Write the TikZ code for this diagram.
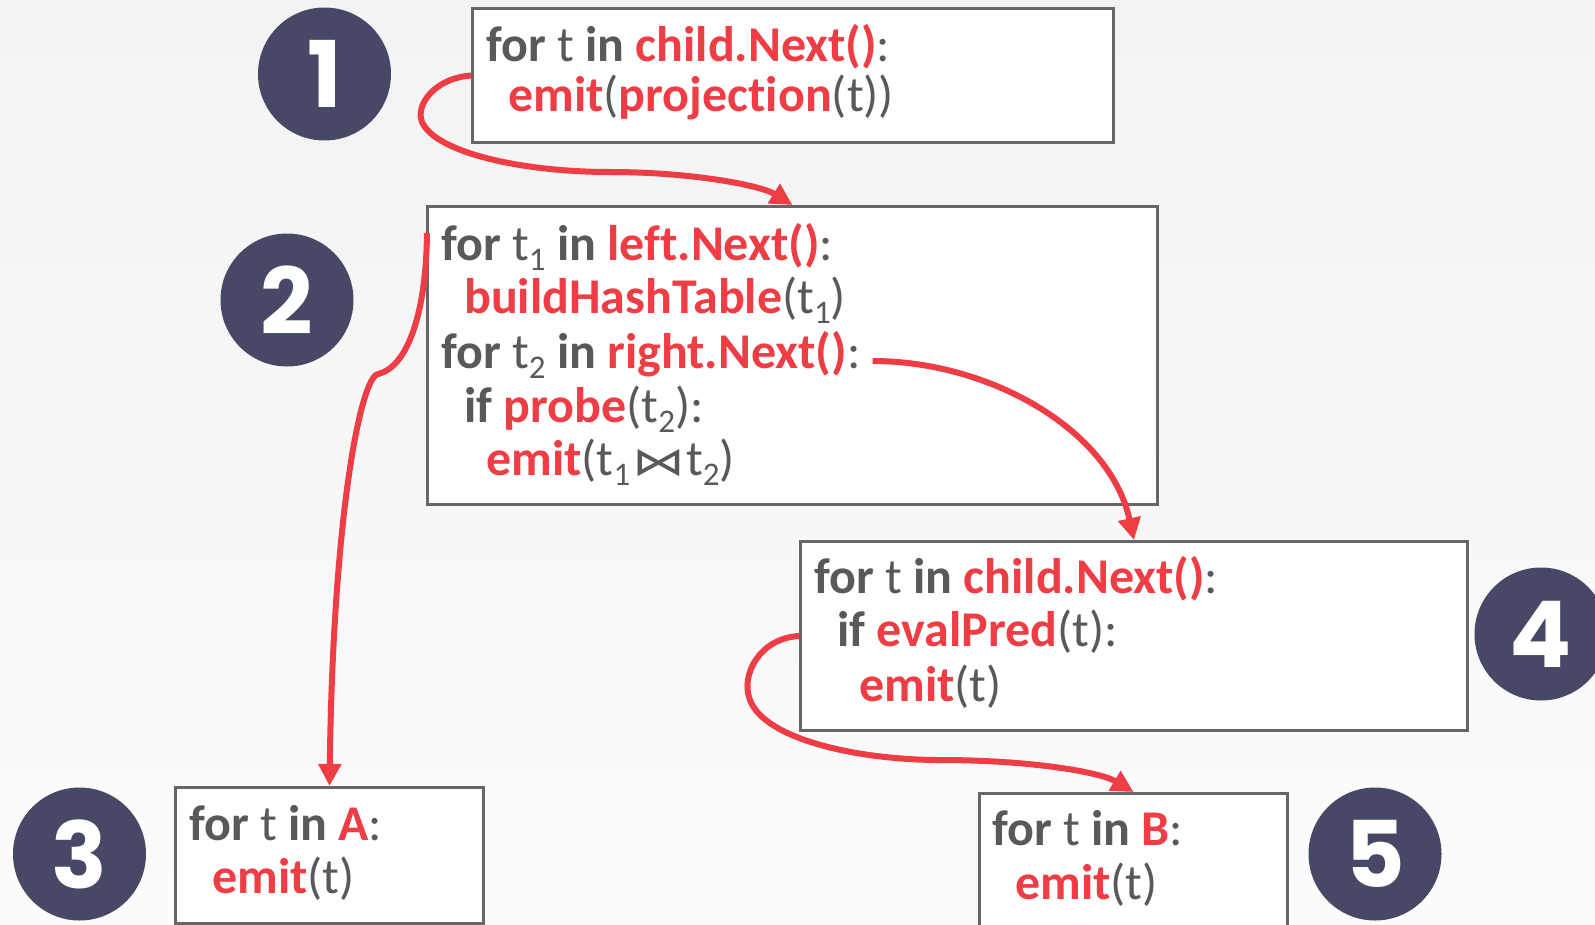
\documentclass[tikz,border=0pt]{standalone}
\usepackage{fontspec}
\setmainfont{Carlito}[Ligatures=NoCommon]
\newfontfamily\numfont{Poppins}
\newfontfamily\symfont{DejaVu Sans}
\usetikzlibrary{arrows.meta,calc}

\definecolor{slred}{HTML}{EE3D45}
\definecolor{slgray}{HTML}{595959}
\definecolor{slframe}{HTML}{666666}
\definecolor{sldisc}{HTML}{464866}
\definecolor{bgtop}{HTML}{F3F3F3}
\definecolor{bgbot}{HTML}{FCFCFC}

% keyword (gray bold), highlighted call (red bold), subscript digit
\newcommand{\kw}[1]{\textbf{#1}}
\newcommand{\hl}[1]{\textcolor{slred}{\textbf{#1}}}
\newcommand{\tsub}[1]{\raisebox{-10.5pt}{\fontsize{33}{33}\selectfont #1}}
\newcommand{\joinop}{\hspace{2pt}{\symfont\fontsize{44}{44}\selectfont\scalebox{1.2}[0.9]{⋈}}\hspace{1pt}}

\tikzset{
  codebox/.style={draw=slframe, line width=3pt, fill=white, inner sep=0pt,
    anchor=north west},
  codeline/.style={anchor=base west, inner sep=0pt, text=slgray,
    font=\fontsize{50}{57}\selectfont},
  disc/.style={circle, fill=sldisc, inner sep=0pt, minimum size=133pt,
    text=white, font=\numfont\bfseries\fontsize{92}{92}\selectfont},
  flow/.style={draw=slred, line width=6pt,
    -{Triangle[length=22pt,width=22pt]}},
}

\begin{document}
\begin{tikzpicture}[x=1pt,y=-1pt]
\useasboundingbox (0,0) rectangle (1595,924);
\clip (0,0) rectangle (1595,924);
\shade[top color=bgtop, bottom color=bgbot] (0,0) rectangle (1595,924);

% operator boxes
\node[codebox, minimum width=641pt, minimum height=134pt] (box1) at (471,7) {};
\node[codebox, minimum width=730pt, minimum height=298pt] (box2) at (426,205) {};
\node[codebox, minimum width=667pt, minimum height=189pt] (box4) at (799,540) {};
\node[codebox, minimum width=308pt, minimum height=136pt] (box3) at (174,786) {};
\node[codebox, minimum width=308pt, minimum height=150pt] (box5) at (978,792) {};

% projection
\node[codeline] (b1l1) at (486,61) {\kw{for} t \kw{in} \hl{child.Next()}:};
\node[codeline] (b1l2) at (508,111) {\hl{emit}(\hl{projection}(t))};

% hash join
\node[codeline] (b2l1) at (441,260) {\kw{for} t\tsub{1} \kw{in} \hl{left.Next()}:};
\node[codeline] (b2l2) at (464,313) {\hl{buildHashTable}(t\tsub{1})};
\node[codeline] (b2l3) at (441,368) {\kw{for} t\tsub{2} \kw{in} \hl{right.Next()}:};
\node[codeline] (b2l4) at (464,422) {\kw{if} \hl{probe}(t\tsub{2}):};
\node[codeline] (b2l5) at (486,475) {\hl{emit}(t\tsub{1}\joinop t\tsub{2})};

% selection
\node[codeline] (b4l1) at (814,593) {\kw{for} t \kw{in} \hl{child.Next()}:};
\node[codeline] (b4l2) at (837,646) {\kw{if} \hl{evalPred}(t):};
\node[codeline] (b4l3) at (859,701) {\hl{emit}(t)};

% scans
\node[codeline] (b3l1) at (189,840) {\kw{for} t \kw{in} \hl{A}:};
\node[codeline] (b3l2) at (212,893) {\hl{emit}(t)};
\node[codeline] (b5l1) at (992,845) {\kw{for} t \kw{in} \hl{B}:};
\node[codeline] (b5l2) at (1015,899) {\hl{emit}(t)};

% step numbers
\node[disc] (n1) at (324.5,74) {1};
\node[disc] (n2) at (287,300) {2};
\node[disc] (n3) at (79.5,854) {3};
\node[disc] (n4) at (1541,634) {4};
\node[disc] (n5) at (1375,854) {5};

% control flow
\coordinate (a2s) at ($(box2.north west)+(1,28)$);
\coordinate (a3s) at ($(b2l3.base east)+(12,-7)$);

\draw[flow] (box1.west) .. controls (435,78) and (415,105) .. (422,122)
  .. controls (435,152) and (520,172) .. (610,172)
  .. controls (690,172) and (760,185) .. (box2.north);
\draw[flow] (a2s) .. controls (426,320) and (405,368) .. (378,374)
  .. controls (360,378) and (333,520) .. (box3.north);
\draw[flow] (a3s) .. controls (990,361) and (1110,430) .. (box4.north);
\draw[flow] (box4.west) .. controls (760,638) and (740,675) .. (750,700)
  .. controls (765,740) and (860,760) .. (940,760)
  .. controls (1030,760) and (1100,772) .. (box5.north);
\end{tikzpicture}
\end{document}
